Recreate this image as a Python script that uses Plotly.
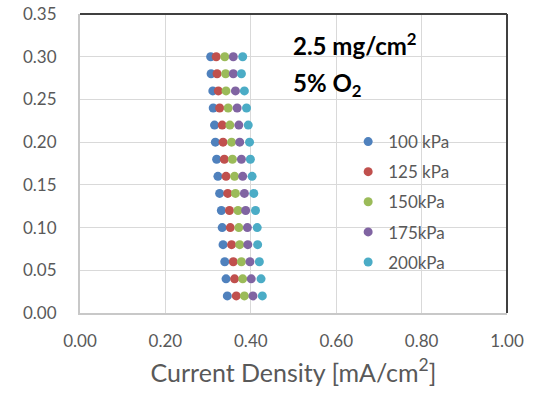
import plotly.graph_objects as go

y_vals = [0.30, 0.28, 0.26, 0.24, 0.22, 0.20, 0.18, 0.16, 0.14, 0.12, 0.10, 0.08, 0.06, 0.04, 0.02]

x_100 = [0.306, 0.307, 0.311, 0.312, 0.315, 0.317, 0.320, 0.323, 0.327, 0.331, 0.333, 0.335, 0.339, 0.342, 0.345]
x_125 = [0.319, 0.321, 0.324, 0.327, 0.333, 0.335, 0.338, 0.342, 0.346, 0.350, 0.352, 0.355, 0.359, 0.362, 0.366]
x_150 = [0.339, 0.341, 0.342, 0.347, 0.351, 0.355, 0.357, 0.362, 0.364, 0.370, 0.372, 0.374, 0.378, 0.381, 0.385]
x_175 = [0.359, 0.359, 0.364, 0.368, 0.372, 0.374, 0.378, 0.381, 0.385, 0.388, 0.392, 0.393, 0.398, 0.401, 0.405]
x_200 = [0.381, 0.378, 0.385, 0.390, 0.394, 0.397, 0.399, 0.403, 0.407, 0.411, 0.415, 0.416, 0.420, 0.424, 0.427]

series_names = ["100 kPa", "125 kPa", "150kPa", "175kPa", "200kPa"]
series_x = [x_100, x_125, x_150, x_175, x_200]
colors = ["#4F81BD", "#C0504D", "#9BBB59", "#8064A2", "#4BACC6"]

x_ticks = [0.0, 0.2, 0.4, 0.6, 0.8, 1.0]
y_ticks = [0.00, 0.05, 0.10, 0.15, 0.20, 0.25, 0.30, 0.35]

FONT = "Lato"

fig = go.Figure()
for i, (name, xs, c) in enumerate(zip(series_names, series_x, colors)):
    fig.add_trace(go.Scatter(
        x=xs, y=y_vals, mode="markers", name=name,
        legendgroup=f"g{i}",
        marker=dict(color=c, size=9, line=dict(width=0)),
    ))

fig.update_layout(
    width=539, height=396,
    margin=dict(l=79.5, r=32.3, t=14, b=83.3, autoexpand=False),
    paper_bgcolor="white", plot_bgcolor="white",
    font=dict(family=FONT, color="#595959", size=17),
    showlegend=True,
    legend=dict(
        x=0.628, y=0.632, xanchor="left", yanchor="top",
        xref="paper", yref="paper",
        font=dict(family=FONT, size=17, color="#595959"),
        bgcolor="rgba(0,0,0,0)", borderwidth=0,
        tracegroupgap=5, itemwidth=30,
    ),
    xaxis=dict(
        range=[0, 1.0], tickvals=x_ticks,
        ticktext=[f"{v:.2f}" for v in x_ticks],
        showgrid=True, gridcolor="#D9D9D9", gridwidth=1,
        showline=True, linecolor="#C8C8C8", linewidth=2,
        zeroline=False, ticks="", ticklabelstandoff=12, automargin=False,
        tickfont=dict(family=FONT, size=17, color="#595959"),
        title=dict(text="Current Density [mA/cm<sup>2</sup>]",
                   font=dict(family=FONT, size=25, color="#595959"),
                   standoff=14),
    ),
    yaxis=dict(
        range=[0, 0.35], tickvals=y_ticks,
        ticktext=[f"{v:.2f}" for v in y_ticks],
        showgrid=True, gridcolor="#D9D9D9", gridwidth=1,
        showline=True, linecolor="#C8C8C8", linewidth=2,
        zeroline=False, ticks="", ticklabelstandoff=18, automargin=False,
        tickfont=dict(family=FONT, size=17, color="#595959"),
    ),
    shapes=[
        dict(type="line", xref="paper", yref="paper", x0=0, x1=1, y0=1, y1=1,
             line=dict(color="#404040", width=2)),
        dict(type="line", xref="paper", yref="paper", x0=1, x1=1, y0=0, y1=1,
             line=dict(color="#404040", width=2)),
    ],
    annotations=[
        dict(text="<b>2.5 mg/cm<sup>2</sup></b>", xref="paper", yref="paper",
             x=0.493, y=0.9, xanchor="left", yanchor="middle", showarrow=False,
             font=dict(family=FONT, size=24, color="black")),
        dict(text="<b>5% O<sub>2</sub></b>", xref="paper", yref="paper",
             x=0.493, y=0.765, xanchor="left", yanchor="middle", showarrow=False,
             font=dict(family=FONT, size=24, color="black")),
    ],
)

fig.write_html("out.html")
